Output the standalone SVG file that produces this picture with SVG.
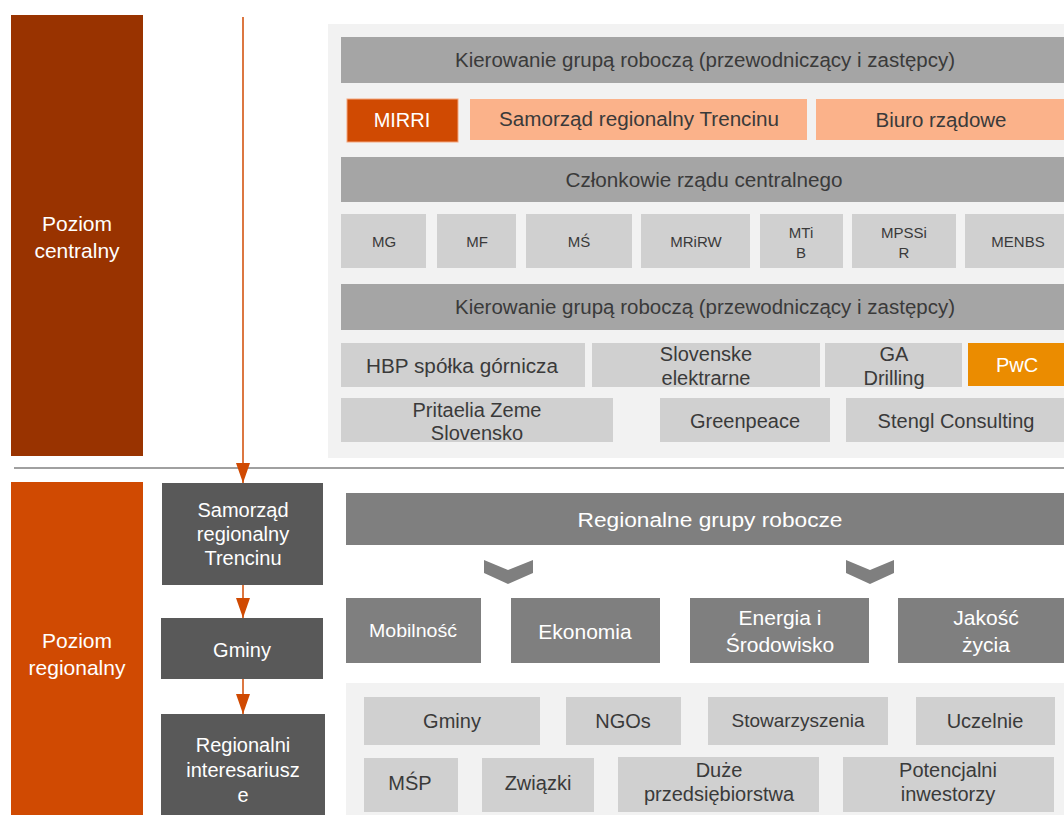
<svg xmlns="http://www.w3.org/2000/svg" width="1064" height="815" viewBox="0 0 1064 815">
<defs>
<style>
text{font-family:"Liberation Sans",Arial,sans-serif;text-anchor:middle}
.w{fill:#ffffff}
.d{fill:#3a3a3a}
.f20{font-size:20px}
.f19{font-size:19px}
.f15{font-size:15px}
.hdr{fill:#a5a5a5}
.lt{fill:#d0d0d0}
.dk{fill:#595959}
.md{fill:#7f7f7f}
.pan{fill:#f2f2f2}
.or{fill:#d04a02}
.po{fill:#fbb28a}
</style>
<marker id="ah" viewBox="0 0 20 14" refX="20" refY="7" markerWidth="20" markerHeight="14" markerUnits="userSpaceOnUse" orient="auto">
<path d="M0,0 L20,7 L0,14 Z" fill="#d04a02"/>
</marker>
</defs>
<rect width="1064" height="815" fill="#ffffff"/>

<g id="levels">
<g id="poziom-centralny"><rect x="11" y="15" width="132" height="441" fill="#993300"/>
<text class="w" x="77" y="231" font-size="21">Poziom</text><text class="w" x="77" y="258" font-size="21">centralny</text></g>
<g id="poziom-regionalny"><rect x="11" y="482" width="132" height="333" class="or"/>
<text class="w" x="77" y="648" font-size="21">Poziom</text><text class="w" x="77" y="675" font-size="21">regionalny</text></g>
</g>

<line x1="14" y1="468" x2="1064" y2="468" stroke="#a0a0a0" stroke-width="2"/>

<g id="central-panel">
<rect x="328" y="24" width="736" height="434" class="pan"/>
<g id="kier1"><rect x="341" y="37" width="723" height="46" class="hdr"/><text class="d f20" x="705" y="67" textLength="500" lengthAdjust="spacingAndGlyphs">Kierowanie grupą roboczą (przewodniczący i zastępcy)</text></g>
<g id="mirri"><rect x="347" y="99" width="111" height="43" class="or" stroke="#f4a57c" stroke-width="1"/><text class="w f20" x="402" y="127">MIRRI</text></g>
<g id="samorzad1"><rect x="470" y="99" width="337" height="41" class="po"/><text class="d f20" x="639" y="126" textLength="280" lengthAdjust="spacingAndGlyphs">Samorząd regionalny Trencinu</text></g>
<g id="biuro"><rect x="816" y="99" width="248" height="41" class="po"/><text class="d f20" x="941" y="127" textLength="131" lengthAdjust="spacingAndGlyphs">Biuro rządowe</text></g>
<g id="czlonkowie"><rect x="341" y="157" width="723" height="45" class="hdr"/><text class="d f20" x="704" y="187" textLength="277" lengthAdjust="spacingAndGlyphs">Członkowie rządu centralnego</text></g>

<g id="mg"><rect x="341" y="214" width="85" height="54" class="lt"/><text class="d f15" x="384" y="247">MG</text></g>
<g id="mf"><rect x="437" y="214" width="79" height="54" class="lt"/><text class="d f15" x="477" y="247">MF</text></g>
<g id="ms"><rect x="526" y="214" width="106" height="54" class="lt"/><text class="d f15" x="579" y="247">MŚ</text></g>
<g id="mrirw"><rect x="641" y="214" width="109" height="54" class="lt"/><text class="d f15" x="696" y="247">MRiRW</text></g>
<g id="mtib"><rect x="760" y="214" width="83" height="54" class="lt"/><text class="d f15" x="801" y="238">MTi</text><text class="d f15" x="801" y="258">B</text></g>
<g id="mpssir"><rect x="852" y="214" width="104" height="54" class="lt"/><text class="d f15" x="904" y="238">MPSSi</text><text class="d f15" x="904" y="258">R</text></g>
<g id="menbs"><rect x="965" y="214" width="99" height="54" class="lt"/><text class="d f15" x="1018" y="247">MENBS</text></g>

<g id="kier2"><rect x="341" y="284" width="723" height="46" class="hdr"/><text class="d f20" x="705" y="314" textLength="500" lengthAdjust="spacingAndGlyphs">Kierowanie grupą roboczą (przewodniczący i zastępcy)</text></g>

<g id="hbp"><rect x="341" y="343" width="244" height="44" class="lt"/><text class="d f20" x="462" y="373" textLength="192" lengthAdjust="spacingAndGlyphs">HBP spółka górnicza</text></g>
<g id="slovenske"><rect x="592" y="343" width="228" height="44" class="lt"/><text class="d f20" x="706" y="361">Slovenske</text><text class="d f20" x="706" y="385">elektrarne</text></g>
<g id="ga"><rect x="825" y="343" width="137" height="44" class="lt"/><text class="d f20" x="894" y="361">GA</text><text class="d f20" x="894" y="385">Drilling</text></g>
<g id="pwc"><rect x="968" y="343" width="96" height="43" fill="#eb8c00"/><text class="w f20" x="1017" y="372">PwC</text></g>

<g id="pritaelia"><rect x="341" y="398" width="272" height="44" class="lt"/><text class="d f20" x="477" y="417">Pritaelia Zeme</text><text class="d f20" x="477" y="440">Slovensko</text></g>
<g id="greenpeace"><rect x="660" y="398" width="170" height="44" class="lt"/><text class="d f20" x="745" y="428">Greenpeace</text></g>
<g id="stengl"><rect x="846" y="398" width="218" height="44" class="lt"/><text class="d f20" x="956" y="428">Stengl Consulting</text></g>
</g>

<g id="regional-chain">
<g id="samorzad2"><rect x="162" y="483" width="161" height="102" class="dk"/><text class="w f20" x="243" y="517">Samorząd</text><text class="w f20" x="243" y="541">regionalny</text><text class="w f20" x="243" y="565">Trencinu</text></g>
<g id="gminy1"><rect x="161" y="618" width="162" height="61" class="dk"/><text class="w f20" x="242" y="657">Gminy</text></g>
<g id="interesariusze"><rect x="161" y="714" width="164" height="101" class="dk"/><text class="w f20" x="243" y="752">Regionalni</text><text class="w f20" x="243" y="777">interesariusz</text><text class="w f20" x="243" y="802">e</text></g>
</g>

<g id="regional-groups">
<g id="grupy"><rect x="346" y="493" width="718" height="52" class="md"/><text class="w f20" x="710" y="527" textLength="265" lengthAdjust="spacingAndGlyphs">Regionalne  grupy robocze</text></g>
<path d="M484,560 L508,570 L533,560 L533,573 L508,584 L484,573 Z" class="md"/>
<path d="M846,560 L870,570 L894,560 L894,573 L870,584 L846,573 Z" class="md"/>
<g id="mobilnosc"><rect x="346" y="598" width="135" height="65" class="md"/><text class="w" x="413" y="637" font-size="18" textLength="88" lengthAdjust="spacingAndGlyphs">Mobilność</text></g>
<g id="ekonomia"><rect x="511" y="598" width="149" height="65" class="md"/><text class="w" x="585" y="639" font-size="21">Ekonomia</text></g>
<g id="energia"><rect x="690" y="598" width="179" height="65" class="md"/><text class="w" x="780" y="625" font-size="21">Energia  i</text><text class="w" x="780" y="652" font-size="21">Środowisko</text></g>
<g id="jakosc"><rect x="898" y="598" width="166" height="65" class="md"/><text class="w" x="986" y="625" font-size="21">Jakość</text><text class="w" x="986" y="652" font-size="21">życia</text></g>

<rect x="346" y="683" width="718" height="132" class="pan"/>
<g id="gminy2"><rect x="364" y="697" width="176" height="48" class="lt"/><text class="d f20" x="452" y="728">Gminy</text></g>
<g id="ngos"><rect x="566" y="697" width="115" height="48" class="lt"/><text class="d f20" x="623" y="728">NGOs</text></g>
<g id="stowarzyszenia"><rect x="708" y="697" width="180" height="48" class="lt"/><text class="d f19" x="798" y="727">Stowarzyszenia</text></g>
<g id="uczelnie"><rect x="916" y="697" width="139" height="48" class="lt"/><text class="d f20" x="985" y="728">Uczelnie</text></g>
<g id="msp"><rect x="364" y="758" width="94" height="54" class="lt"/><text class="d f20" x="410" y="790">MŚP</text></g>
<g id="zwiazki"><rect x="482" y="758" width="112" height="54" class="lt"/><text class="d f20" x="538" y="790">Związki</text></g>
<g id="duze"><rect x="618" y="757" width="201" height="55" class="lt"/><text class="d f20" x="719" y="777">Duże</text><text class="d f20" x="719" y="801">przedsiębiorstwa</text></g>
<g id="potencjalni"><rect x="843" y="757" width="211" height="55" class="lt"/><text class="d f20" x="948" y="777">Potencjalni</text><text class="d f20" x="948" y="801">inwestorzy</text></g>
</g>

<g id="connectors" stroke="#d04a02" stroke-width="1.5" fill="none">
<line x1="243" y1="17" x2="243" y2="483" marker-end="url(#ah)"/>
<line x1="243" y1="585" x2="243" y2="618" marker-end="url(#ah)"/>
<line x1="243" y1="679" x2="243" y2="714" marker-end="url(#ah)"/>
</g>
</svg>
